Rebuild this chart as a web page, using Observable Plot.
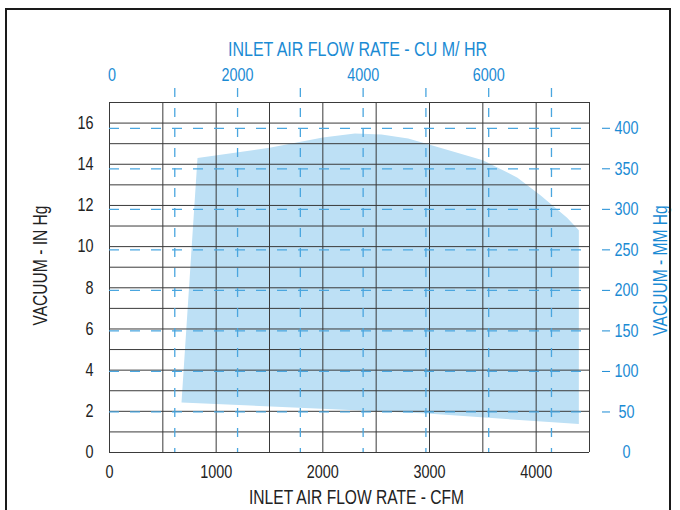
<!DOCTYPE html>
<html>
<head>
<meta charset="utf-8">
<script src="https://cdn.jsdelivr.net/npm/d3@7"></script>
<script src="https://cdn.jsdelivr.net/npm/@observablehq/plot@0.6"></script>
<style>
  html, body { margin: 0; padding: 0; background: #fff; }
  #wrap { position: relative; width: 680px; height: 510px; overflow: hidden; }
  #border { position: absolute; left: 5px; top: 8px; width: 662px; height: 530px; border: 2px solid #1a1a1a; pointer-events: none; }
</style>
</head>
<body>
<div id="wrap"><div id="chart"></div><div id="border"></div></div>
<script>
// Operating envelope outline (CFM, in Hg), clockwise from top-left
const envelopeCfm  = [825, 1500, 2000, 2300, 2550, 2800, 3100, 3500, 3825, 4040, 4290, 4400, 4400, 2980, 1725, 675];
const envelopeInHg = [14.3, 14.8, 15.3, 15.5, 15.45, 15.25, 14.8, 14.2, 13.35, 12.5, 11.4, 10.8, 1.38, 1.89, 2.19, 2.43];

// Axis ticks / grid
const cfmGrid   = [0, 500, 1000, 1500, 2000, 2500, 3000, 3500, 4000, 4500];
const cfmLabels = [0, 1000, 2000, 3000, 4000];
const inHgGrid  = [0,1,2,3,4,5,6,7,8,9,10,11,12,13,14,15,16,17];
const inHgLabels = [0, 2, 4, 6, 8, 10, 12, 14, 16];
const mmHgTicks = [0, 50, 100, 150, 200, 250, 300, 350, 400];
const cumHrTicks = [1000, 2000, 3000, 4000, 5000, 6000, 7000];
const cumHrLabels = [0, 2000, 4000, 6000];

const MM_PER_IN = 25.4;
const M3H_PER_CFM = 1.699;

const blue = "#1b8bd4";
const dashBlue = "#4aa6df";
const gridCol = "#3a3a3a";
const fillCol = "#bde0f5";

const envelope = envelopeCfm.map((c, i) => ({cfm: c, inHg: envelopeInHg[i]}));

const chart = Plot.plot({
  width: 680,
  height: 510,
  marginTop: 102,
  marginRight: 91,
  marginBottom: 58,
  marginLeft: 109,
  x: {domain: [0, 4500], axis: null},
  y: {domain: [0, 17], axis: null},
  style: {
    fontFamily: '"Liberation Sans", Arial, sans-serif',
    fontSize: "18px",
    background: "white",
    color: "#222"
  },
  marks: [
    Plot.line(envelope, {x: "cfm", y: "inHg", fill: fillCol, stroke: null}),
    Plot.ruleX(cfmGrid, {x: d => d, y1: 0, y2: 17, stroke: gridCol, strokeWidth: 1}),
    Plot.ruleY(inHgGrid, {y: d => d, x1: 0, x2: 4500, stroke: gridCol, strokeWidth: 1}),
    Plot.ruleY(mmHgTicks.filter(d => d > 0), {y: d => d / MM_PER_IN, x1: 0, x2: 4500, stroke: dashBlue, strokeWidth: 1.3, strokeDasharray: "10,11"}),
    Plot.ruleX(cumHrTicks, {x: d => d / M3H_PER_CFM, y1: 17.68, y2: 0, dx: 2.5, stroke: dashBlue, strokeWidth: 1.3, strokeDasharray: "9,11"}),
    // bottom labels
    Plot.text(cfmLabels, {x: d => d, frameAnchor: "bottom", dy: 13, lineAnchor: "top", text: d => String(d), fill: "#222"}),
    // left labels
    Plot.text(inHgLabels, {y: d => d, frameAnchor: "left", dx: -16, textAnchor: "end", text: d => String(d), fill: "#222"}),
    // right labels (mm Hg)
    Plot.text(mmHgTicks, {y: d => d / MM_PER_IN, frameAnchor: "right", dx: 37, textAnchor: "middle", text: d => String(d), fill: blue}),
    Plot.axisY(mmHgTicks.filter(d => d > 0).map(d => d / MM_PER_IN), {anchor: "right", tickSize: 8, dx: 12, tickFormat: () => "", stroke: blue, label: null}),
    // top labels (cu m / hr)
    Plot.text(cumHrLabels, {x: d => d / M3H_PER_CFM, frameAnchor: "top", dy: -22, dx: 2.5, lineAnchor: "bottom", text: d => String(d), fill: blue}),
    // titles
    Plot.text(["INLET AIR FLOW RATE - CU M/ HR"], {frameAnchor: "top", dy: -47, dx: 8, lineAnchor: "bottom", textAnchor: "middle", fill: blue, fontSize: 20}),
    Plot.text(["INLET AIR FLOW RATE - CFM"], {frameAnchor: "bottom", dy: 51, dx: 7, lineAnchor: "bottom", textAnchor: "middle", fill: "#222", fontSize: 19.5}),
    Plot.text(["VACUUM - IN Hg"], {frameAnchor: "left", dx: -69, dy: -12, rotate: -90, textAnchor: "middle", fill: "#222", fontSize: 19.5}),
    Plot.text(["VACUUM - MM Hg"], {frameAnchor: "right", dx: 71, dy: -7, rotate: -90, textAnchor: "middle", fill: blue, fontSize: 19.5})
  ]
});

// Condense all text horizontally (along its own baseline) to mimic a narrow typeface
chart.querySelectorAll("text").forEach(el => {
  const x = +el.getAttribute("x") || 0;
  const y = +el.getAttribute("y") || 0;
  const t = el.getAttribute("transform") || "";
  el.setAttribute("transform", `${t} translate(${x},${y}) scale(0.8,1) translate(${-x},${-y})`);
});

document.getElementById("chart").appendChild(chart);
</script>
</body>
</html>
